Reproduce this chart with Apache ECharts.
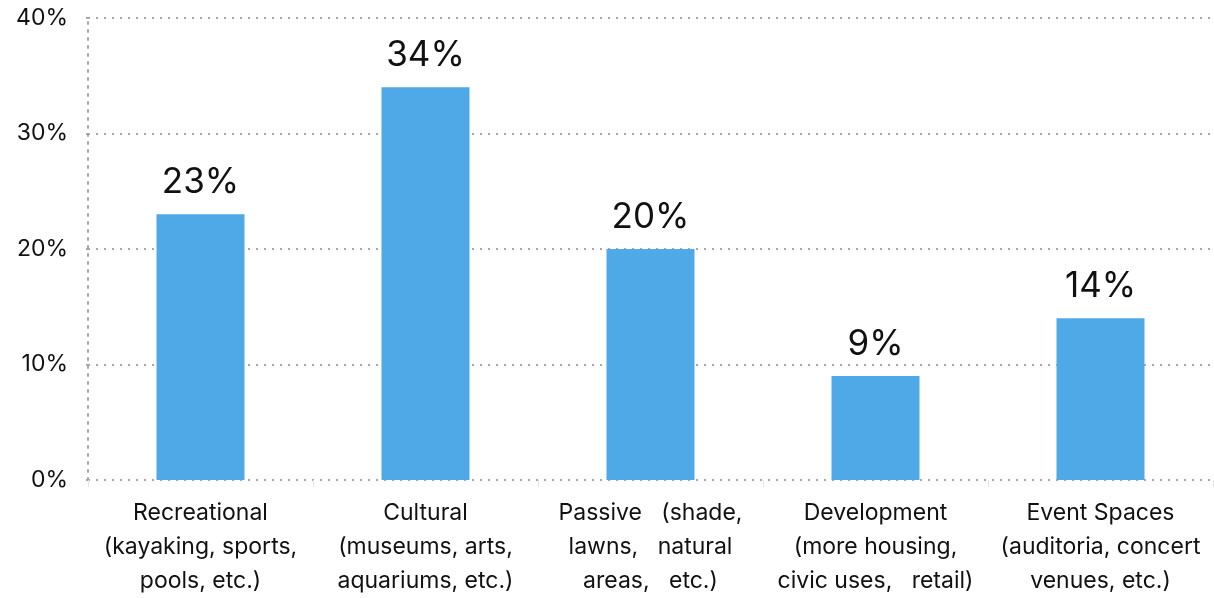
<!DOCTYPE html>
<html>
<head>
<meta charset="utf-8">
<script src="https://cdn.jsdelivr.net/npm/echarts@6/dist/echarts.min.js"></script>
<style>
  html, body { margin: 0; padding: 0; background: #fff; }
  #chart { width: 1214px; height: 598px; }
</style>
</head>
<body>
<div id="chart"></div>
<script>
// Preferred park uses, share of responses
const categories = [
  'Recreational\n(kayaking, sports,\npools, etc.)',
  'Cultural\n(museums, arts,\naquariums, etc.)',
  'Passive   (shade,\nlawns,   natural\nareas,   etc.)',
  'Development\n(more housing,\ncivic uses,   retail)',
  'Event Spaces\n(auditoria, concert\nvenues, etc.)'
];
const shares = [23, 34, 20, 9, 14];
const yTicks = [0, 10, 20, 30, 40];

const fontFamily = 'Inter, "Liberation Sans", sans-serif';
const chart = echarts.init(document.getElementById('chart'));
chart.setOption({
  animation: false,
  grid: { left: 88, right: 1, top: 18, bottom: 101, containLabel: false },
  xAxis: {
    type: 'category',
    data: categories,
    axisLine: { show: false },
    axisTick: { show: true, length: 7, lineStyle: { color: '#e6e6e6', width: 1 } },
    axisLabel: {
      interval: 0,
      margin: 16,
      color: '#111',
      fontFamily: fontFamily,
      fontSize: 23,
      lineHeight: 34
    }
  },
  yAxis: {
    type: 'value',
    min: yTicks[0],
    max: yTicks[yTicks.length - 1],
    interval: 10,
    axisLine: { show: true, lineStyle: { color: '#a8a8a8', type: [2, 6], width: 2 } },
    axisTick: { show: true, length: 8, lineStyle: { color: '#a8a8a8', type: [2, 6], width: 2 } },
    axisLabel: {
      margin: 20,
      color: '#111',
      fontFamily: fontFamily,
      fontSize: 23,
      formatter: v => v + '%'
    },
    splitLine: { show: true, lineStyle: { color: '#a8a8a8', type: [2, 6], width: 2 } }
  },
  series: [{
    type: 'bar',
    data: shares,
    barWidth: 88,
    itemStyle: { color: '#4EA9E6' },
    label: {
      show: true,
      position: 'top',
      distance: 14,
      color: '#111',
      fontFamily: fontFamily,
      fontSize: 35,
      formatter: p => p.value + '%'
    }
  }]
});
</script>
</body>
</html>
